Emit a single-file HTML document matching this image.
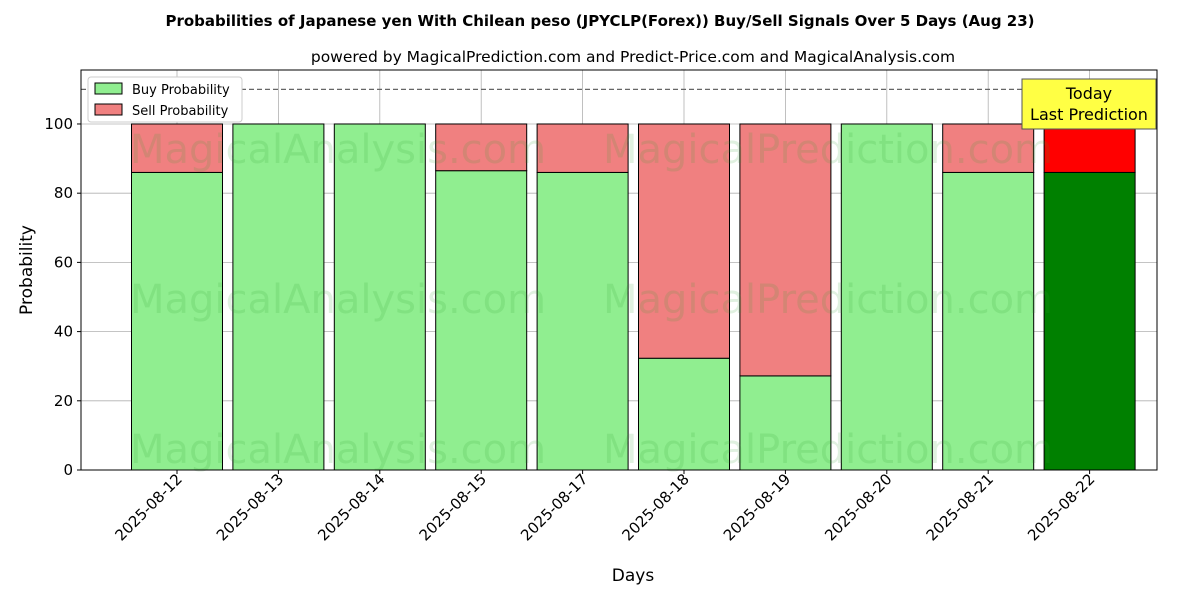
<!DOCTYPE html>
<html><head><meta charset="utf-8"><style>
body{margin:0;background:#fff;font-family:"DejaVu Sans","Liberation Sans",sans-serif;}
</style></head><body>
<svg id="chart" width="1200" height="600" xmlns="http://www.w3.org/2000/svg" font-family="DejaVu Sans, Liberation Sans, sans-serif">
<text x="600" y="26" text-anchor="middle" font-size="15" font-weight="bold">Probabilities of Japanese yen With Chilean peso (JPYCLP(Forex)) Buy/Sell Signals Over 5 Days (Aug 23)</text>
<text x="633" y="62" text-anchor="middle" font-size="15.5">powered by MagicalPrediction.com and Predict-Price.com and MagicalAnalysis.com</text>
<g id="grid"></g>
<g id="bars"></g>
<g id="wm" font-size="40" fill="#2ca02c" fill-opacity="0.15">
<text x="130" y="163">MagicalAnalysis.com</text><text x="603" y="163">MagicalPrediction.com</text>
<text x="130" y="313">MagicalAnalysis.com</text><text x="603" y="313">MagicalPrediction.com</text>
<text x="130" y="463">MagicalAnalysis.com</text><text x="603" y="463">MagicalPrediction.com</text>
</g>
<g id="axes"></g>
<text x="633" y="581" text-anchor="middle" font-size="17">Days</text>
<text transform="translate(32,270) rotate(-90)" text-anchor="middle" font-size="17">Probability</text>
<g>
<rect x="88" y="77" width="154" height="45" fill="#fff" stroke="#ccc" rx="3"/>
<rect x="95" y="83" width="27" height="11" fill="#90ee90" stroke="#000"/>
<text x="132" y="94" font-size="13">Buy Probability</text>
<rect x="95" y="104" width="27" height="11" fill="#f08080" stroke="#000"/>
<text x="132" y="115" font-size="13">Sell Probability</text>
</g>
</svg>
<script>
const categories=["2025-08-12","2025-08-13","2025-08-14","2025-08-15","2025-08-17","2025-08-18","2025-08-19","2025-08-20","2025-08-21","2025-08-22"];
const buyValues=[86,100,100,86.5,86,32.3,27.2,100,86,86];
const sellValues=[14,0,0,13.5,14,67.7,72.8,0,14,14];
const yTicks=[0,20,40,60,80,100];
const NS="http://www.w3.org/2000/svg";
const L=81,R=1157,T=70,B=470,yMax=115.6;
const xs=i=>177+101.4*i;
const ys=v=>B-(B-T)*v/yMax;
function mk(tag,attrs,parent){const e=document.createElementNS(NS,tag);for(const k in attrs)e.setAttribute(k,attrs[k]);parent.appendChild(e);return e;}
const grid=document.getElementById('grid'),bars=document.getElementById('bars'),axes=document.getElementById('axes');
yTicks.forEach(t=>{const l=mk('line',{x1:L,x2:R,y1:ys(t),y2:ys(t),stroke:'#b0b0b0','stroke-width':0.8},grid);


mk('line',{x1:L-4,x2:L,y1:ys(t),y2:ys(t),stroke:'#000'},axes);
const tx=mk('text',{x:L-8,y:ys(t)+5,'text-anchor':'end','font-size':15},axes);tx.textContent=t;

});
categories.forEach((c,i)=>{const x=xs(i);
const g=mk('line',{x1:x,x2:x,y1:T,y2:B,stroke:'#b0b0b0','stroke-width':0.8},grid);


const last=i===categories.length-1;
const b=mk('rect',{x:x-45.5,width:91,y:ys(buyValues[i]),height:ys(0)-ys(buyValues[i]),fill:last?'#008000':'#90ee90',stroke:'#000'},bars);


const s=mk('rect',{x:x-45.5,width:91,y:ys(buyValues[i]+sellValues[i]),height:ys(buyValues[i])-ys(buyValues[i]+sellValues[i]),fill:last?'#ff0000':'#f08080',stroke:'#000'},bars);


mk('line',{x1:x,x2:x,y1:B,y2:B+4,stroke:'#000'},axes);
const tx=mk('text',{transform:`translate(${x+6},${B+10}) rotate(-45)`,'text-anchor':'end','font-size':15},axes);tx.textContent=c;

});
const d=mk('line',{x1:L,x2:R,y1:ys(110),y2:ys(110),stroke:'#666','stroke-dasharray':'5,3','stroke-width':1.2},axes);


const fr=mk('rect',{x:L,y:T,width:R-L,height:B-T,fill:'none',stroke:'#000'},axes);


const ann=mk('g',{},axes);


mk('rect',{x:1022,y:79,width:134,height:50,fill:'#ffff44',stroke:'#555'},ann);
const a1=mk('text',{x:1089,y:99,'text-anchor':'middle','font-size':16},ann);a1.textContent='Today';
const a2=mk('text',{x:1089,y:120,'text-anchor':'middle','font-size':16},ann);a2.textContent='Last Prediction';
</script>
</body></html>
